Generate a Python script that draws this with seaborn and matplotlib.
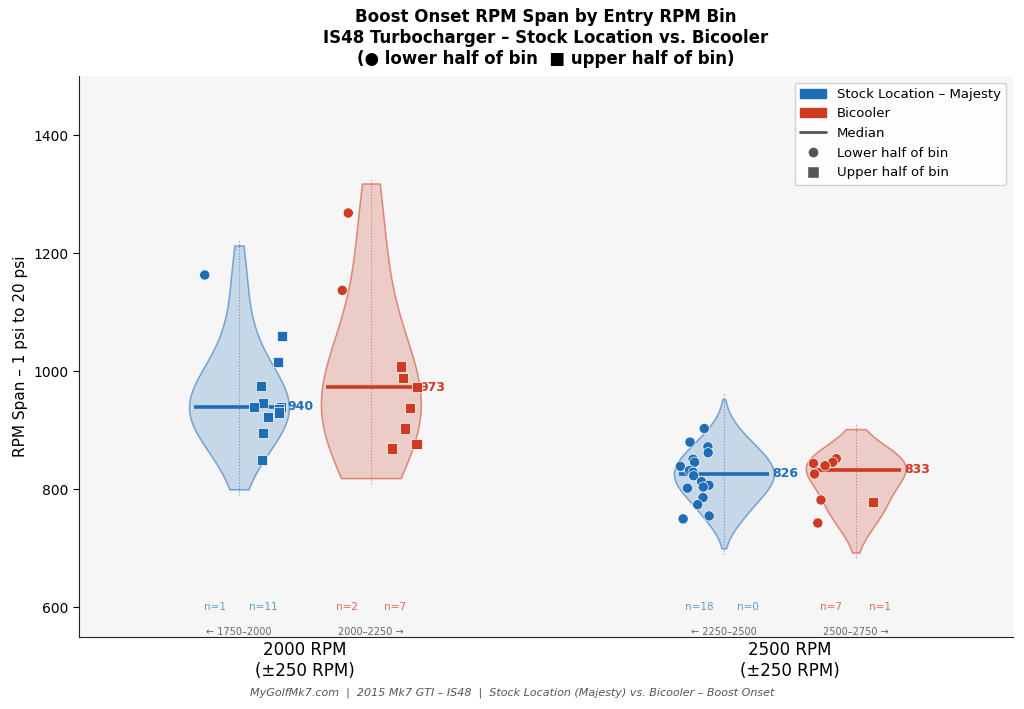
import numpy as np
import pandas as pd
import matplotlib.pyplot as plt
import matplotlib.colors as mcolors
import seaborn as sns
from matplotlib.patches import Patch
from matplotlib.lines import Line2D

# data (RPM span, 1 psi -> 20 psi)
bins = ["2000 RPM\n(\u00b1250 RPM)", "2500 RPM\n(\u00b1250 RPM)"]
setups = ["Stock Location \u2013 Majesty", "Bicooler"]

stock_2000_lower = [1163]
stock_2000_upper = [1060, 1015, 975, 946, 940, 940, 936, 930, 922, 895, 850]
bicooler_2000_lower = [1268, 1137]
bicooler_2000_upper = [1008, 988, 973, 938, 903, 877, 869]
stock_2500_lower = [903, 880, 872, 862, 851, 846, 839, 832, 829, 823, 813, 807,
                    804, 802, 786, 774, 755, 750]
stock_2500_upper = []
bicooler_2500_lower = [852, 846, 844, 840, 826, 782, 743]
bicooler_2500_upper = [778]

bin_ranges = [["\u2190 1750\u20132000", "2000\u20132250 \u2192"],
              ["\u2190 2250\u20132500", "2500\u20132750 \u2192"]]

colors = {setups[0]: "#1f6db5", setups[1]: "#cc3b22"}
soft = {setups[0]: "#5b9bd5", setups[1]: "#e06a55"}

# build a long table
rows = []
groups = [(0, setups[0], stock_2000_lower, stock_2000_upper),
          (0, setups[1], bicooler_2000_lower, bicooler_2000_upper),
          (1, setups[0], stock_2500_lower, stock_2500_upper),
          (1, setups[1], bicooler_2500_lower, bicooler_2500_upper)]
for b, s, lo, up in groups:
    for v in lo:
        rows.append((b, s, "lower", v))
    for v in up:
        rows.append((b, s, "upper", v))
df = pd.DataFrame(rows, columns=["bin", "setup", "half", "span"])

offset = 0.136
df["center"] = df["bin"] + np.where(df["setup"] == setups[0], -offset, offset)

# one sided jitter: lower half to the left, upper half to the right
rng = np.random.default_rng(7)
jit = rng.uniform(0.03, 0.095, len(df))
df["xpos"] = df["center"] + np.where(df["half"] == "lower", -jit, jit)

sns.set_style("white")
plt.rcParams["font.family"] = ["DejaVu Sans"]
plt.rcParams["text.color"] = "black"
plt.rcParams["axes.labelcolor"] = "black"
plt.rcParams["xtick.color"] = "black"
plt.rcParams["ytick.color"] = "black"

fig = plt.figure(figsize=(10.24, 7.09), dpi=100)
ax = fig.add_axes([0.0771, 0.1016, 0.912, 0.7912])
ax.set_facecolor("#f6f6f6")

bw_adjust = 1.25

# violins, one per group (kde grid reaches 50 rpm past the data)
for (b, s), g in df.groupby(["bin", "setup"], sort=False):
    vals = g["span"].to_numpy(dtype=float)
    pos = g["center"].iloc[0]
    bw = np.std(vals, ddof=1) * len(vals) ** (-0.2) * bw_adjust
    sns.violinplot(x=np.full(len(vals), pos), y=vals, native_scale=True,
                   orient="x", width=0.206, density_norm="width",
                   bw_adjust=bw_adjust, cut=50 / bw, inner=None,
                   color=colors[s], saturation=1,
                   linecolor=colors[s], linewidth=1.1, ax=ax)
    poly = ax.collections[-1]
    poly.set_facecolor((*mcolors.to_rgb(colors[s]), 0.22))
    poly.set_edgecolor((*mcolors.to_rgb(colors[s]), 0.55))

    # dotted centre line
    ax.vlines(pos, vals.min() - 60, vals.max() + 60, colors=colors[s],
              linestyles=":", linewidth=0.8, alpha=0.6)

    # median
    med = np.median(vals)
    ax.hlines(med, pos - 0.093, pos + 0.093, colors=colors[s], linewidth=2.6, zorder=4)
    ax.text(pos + 0.1, med, f"{med:.0f}", color=colors[s], fontsize=9,
            fontweight="bold", va="center", ha="left", zorder=5)

    # counts per half
    n_lo = (g["half"] == "lower").sum()
    n_up = (g["half"] == "upper").sum()
    ax.text(pos - 0.05, 600, f"n={n_lo}", color=soft[s], fontsize=7.5,
            ha="center", va="center")
    ax.text(pos + 0.05, 600, f"n={n_up}", color=soft[s], fontsize=7.5,
            ha="center", va="center")

# points
sns.scatterplot(data=df, x="xpos", y="span", hue="setup", style="half",
                palette=colors, markers={"lower": "o", "upper": "s"},
                s=54, edgecolor="white", linewidth=0.5, legend=False,
                zorder=6, ax=ax)

# bin range captions
for b in range(2):
    ax.text(b - offset, 558, bin_ranges[b][0], color="#666666", fontsize=7,
            ha="center", va="center")
    ax.text(b + offset, 558, bin_ranges[b][1], color="#666666", fontsize=7,
            ha="center", va="center")

ax.set_xlim(-0.466, 1.46)
ax.set_ylim(550, 1500)
ax.set_xticks([0, 1])
ax.set_xticklabels(bins, fontsize=12)
ax.set_yticks([600, 800, 1000, 1200, 1400])
ax.tick_params(axis="y", labelsize=10, length=4, left=True)
ax.tick_params(axis="x", length=0, pad=3)
ax.set_xlabel("")
ax.set_ylabel("RPM Span \u2013 1 psi to 20 psi", fontsize=11)
sns.despine(ax=ax)
for sp in ["left", "bottom"]:
    ax.spines[sp].set_color("#222222")

ax.set_title("Boost Onset RPM Span by Entry RPM Bin\n"
             "IS48 Turbocharger \u2013 Stock Location vs. Bicooler\n"
             "(\u25cf lower half of bin  \u25a0 upper half of bin)",
             fontsize=12, fontweight="bold", pad=9)

handles = [Patch(color=colors[setups[0]], label=setups[0]),
           Patch(color=colors[setups[1]], label=setups[1]),
           Line2D([0], [0], color="#555555", lw=2, label="Median"),
           Line2D([0], [0], marker="o", color="w", markerfacecolor="#555555",
                  markersize=8, label="Lower half of bin"),
           Line2D([0], [0], marker="s", color="w", markerfacecolor="#555555",
                  markersize=8, label="Upper half of bin")]
ax.legend(handles=handles, loc="upper right", fontsize=9.5, frameon=True,
          facecolor="white", edgecolor="#cccccc", framealpha=0.9)

fig.text(0.5, 0.019, "MyGolfMk7.com  |  2015 Mk7 GTI \u2013 IS48  |  "
         "Stock Location (Majesty) vs. Bicooler \u2013 Boost Onset",
         ha="center", fontsize=8, style="italic", color="#555555")

fig.savefig("out.png", dpi=100)
